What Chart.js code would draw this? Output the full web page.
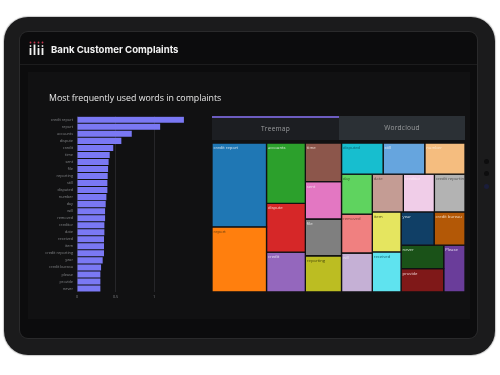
<!DOCTYPE html>
<html>
<head>
<meta charset="utf-8">
<title>Bank Customer Complaints</title>
<script src="https://cdn.jsdelivr.net/npm/chart.js@4"></script>
<style>
  html, body { margin: 0; width: 500px; height: 375px; background: #fff; overflow: hidden; }
  body { position: relative; font-family: "Open Sans", sans-serif; }
  #device { position: absolute; left: 0; top: 0; width: 500px; height: 375px; filter: blur(0.35px); }
  .abs { position: absolute; }
  #tablet { left: 4px; top: 17px; width: 491px; height: 338px; background: #1b1b1c; border-radius: 24px; box-shadow: 0 0 1px 1px #c9c9c9; }
  #screen { left: 20px; top: 32px; width: 457px; height: 306px; background: #0c0c0d; border-radius: 8px; box-shadow: 0 0 0 1px #2a2a2b; }
  #headline { left: 20px; top: 64px; width: 457px; height: 1px; background: #1c1c1d; }
  #panel { left: 28px; top: 72px; width: 442px; height: 247px; background: #111112; }
  #title { left: 51px; top: 44px; font: 700 9.6px Inter, sans-serif; color: #f2f2f2; white-space: nowrap; }
  #subtitle { left: 49px; top: 92px; font: 500 8.8px "Open Sans", sans-serif; color: #e8e8e8; white-space: nowrap; }
  .tab { top: 116px; height: 24px; line-height: 24px; text-align: center; font-size: 6.6px; letter-spacing: 0.2px; color: #9a9c9e; box-sizing: border-box; }
  #tabA { left: 212px; width: 127px; background: #1c1e22; border-top: 2px solid #6c5cc0; line-height: 22px; }
  #tabB { left: 339px; width: 126px; background: #2b3035; }
  .dot { width: 5px; height: 5px; left: 484px; border-radius: 50%; background: #0d0d0e; }
  #barBox { left: 30px; top: 110px; width: 155px; height: 194px; }
  #mapBox { left: 212px; top: 143px; width: 253px; height: 149px; }
</style>
</head>
<body>
<div id="device">
<div class="abs" id="tablet"></div>
<div class="abs" id="screen"></div>
<div class="abs" id="headline"></div>
<div class="abs" id="panel"></div>
<div class="abs dot" style="top:159px"></div>
<div class="abs dot" style="top:171px"></div>
<div class="abs dot" style="top:184px;background:#1a1d3a"></div>

<svg class="abs" style="left:29px;top:41px" width="15" height="15">
  <g fill="#c2344d"><circle cx="1.5" cy="1.5" r="0.9"/><circle cx="5.5" cy="1.5" r="0.9"/><circle cx="9.5" cy="1.5" r="0.9"/><circle cx="13.5" cy="1.5" r="0.9"/></g>
  <g fill="#ddd"><circle cx="1.5" cy="5" r="0.9"/><circle cx="9.5" cy="5" r="0.9"/><circle cx="13.5" cy="5" r="0.9"/></g>
  <g fill="#f4f4f4"><rect x="0.6" y="7" width="1.8" height="7"/><rect x="4.6" y="3.5" width="1.8" height="10.5"/><rect x="8.6" y="7" width="1.8" height="7"/><rect x="12.6" y="7" width="1.8" height="7"/></g>
</svg>
<div class="abs" id="title">Bank Customer Complaints</div>
<div class="abs" id="subtitle">Most frequently used words in complaints</div>
<div class="abs tab" id="tabA">Treemap</div>
<div class="abs tab" id="tabB">Wordcloud</div>

<div class="abs" id="barBox"><canvas id="bars"></canvas></div>
<div class="abs" id="mapBox"><canvas id="map"></canvas></div>
</div>

<script>
// word frequencies, same numbers feed the bars and the treemap tiles
const words = ['credit report', 'report', 'accounts', 'dispute', 'credit', 'time', 'sent', 'file',
  'reporting', 'still', 'disputed', 'number', 'day', 'will', 'removed', 'creditor', 'date',
  'received', 'item', 'credit reporting', 'year', 'credit bureau', 'please', 'provide', 'never'];
const freq = [1.386, 1.078, 0.71, 0.575, 0.47, 0.424, 0.41, 0.403,
  0.398, 0.394, 0.394, 0.381, 0.372, 0.364, 0.364, 0.355, 0.355,
  0.35, 0.35, 0.35, 0.333, 0.312, 0.303, 0.303, 0.303];
const xTicks = [0, 0.5, 1];

const tileColors = ['#1f77b4', '#ff7f0e', '#2ca02c', '#d62728', '#9467bd', '#8c564b', '#e377c2', '#7f7f7f',
  '#bcbd22', '#66a5de', '#17becf', '#f5bd7f', '#5fd35f', '#c5b0d5', '#f08080', '#f0cde8', '#c49c94',
  '#5fe3ef', '#e5e55f', '#b3b3b3', '#103f66', '#b35806', '#6a3d9a', '#7f1818', '#1a5218'];
const tileInk = ['#dbe6f0', '#5a3a10', '#dcecdc', '#f2d4d4', '#e8dff2', '#ecdcd6', '#f2dcec', '#e8e8e8',
  '#44440c', '#e0ecf8', '#0f5f6e', '#fbe6cc', '#245c24', '#e4dcec', '#7a3c3c', '#fbeaf6', '#66504a',
  '#14606a', '#4e4e14', '#4d4d4d', '#d6e2ec', '#f4dcc4', '#e6dcf2', '#f0d6d6', '#d8ead8'];

// slice-and-dice order, every nesting level flips the split direction
const tree = [
  ['credit report', 'report'],
  ['accounts', 'dispute', 'credit'],
  ['time', 'sent', 'file', 'reporting'],
  [
    ['disputed', 'still', 'number'],
    [
      ['day', 'removed', 'will'],
      [
        ['date', 'creditor', 'credit reporting'],
        [
          ['item', 'received'],
          [
            ['year', 'credit bureau'],
            [['never', 'provide'], 'please']
          ]
        ]
      ]
    ]
  ]
];

const BAR_COLOR = '#7a78f4';
const TICK_COLOR = '#85878a';
const GRID_COLOR = '#262629';

function nodeSize(node) {
  if (typeof node === 'string') return freq[words.indexOf(node)];
  return node.reduce((s, n) => s + nodeSize(n), 0);
}

// turn the tree into unit-square rectangles for the hidden linear scales
function layout(node, x0, y0, x1, y1, horizontal, out) {
  if (typeof node === 'string') {
    out.push({ word: node, x0, y0, x1, y1 });
    return out;
  }
  const total = nodeSize(node);
  let at = horizontal ? x0 : y0;
  node.forEach(child => {
    const span = (horizontal ? x1 - x0 : y1 - y0) * nodeSize(child) / total;
    if (horizontal) layout(child, at, y0, at + span, y1, false, out);
    else layout(child, x0, at, x1, at + span, true, out);
    at += span;
  });
  return out;
}

new Chart(document.getElementById('bars'), {
  type: 'bar',
  data: {
    labels: words,
    datasets: [{ data: freq, backgroundColor: BAR_COLOR, barPercentage: 0.86, categoryPercentage: 1 }]
  },
  options: {
    indexAxis: 'y', responsive: true, maintainAspectRatio: false, animation: false,
    layout: { padding: { top: 2, right: 0, left: 0, bottom: 0 } },
    plugins: { legend: { display: false }, tooltip: { enabled: false } },
    scales: {
      y: {
        afterFit: s => { s.width = 47; },
        grid: { display: false, drawTicks: false }, border: { display: false },
        ticks: { color: TICK_COLOR, font: { size: 3.8, family: 'Open Sans' }, autoSkip: false, padding: 4 }
      },
      x: {
        min: 0, max: 1.4,
        afterBuildTicks: s => { s.ticks = xTicks.map(value => ({ value })); },
        afterFit: s => { s.height = 12; },
        grid: { color: GRID_COLOR, lineWidth: 1, drawTicks: false }, border: { display: false },
        ticks: {
          color: TICK_COLOR, font: { size: 3.8, family: 'Open Sans' }, padding: 3, maxRotation: 0,
          callback: v => String(v)
        }
      }
    }
  }
});

const tiles = layout(tree, 0, 0, 1, 1, true, []);

const tileLabels = {
  id: 'tileLabels',
  afterDatasetsDraw(chart) {
    const { ctx, scales: { x, y } } = chart;
    ctx.save();
    ctx.font = '4.2px "Open Sans"';
    ctx.textBaseline = 'middle';
    tiles.forEach(t => {
      const i = words.indexOf(t.word);
      ctx.fillStyle = tileInk[i];
      const text = t.word === 'please' ? 'Please' : t.word;
      ctx.fillText(text, x.getPixelForValue(t.x0) + 1.5, y.getPixelForValue(t.y0) + 5);
    });
    ctx.restore();
  }
};

new Chart(document.getElementById('map'), {
  type: 'scatter',
  data: {
    datasets: tiles.map(t => {
      const i = words.indexOf(t.word);
      return {
        label: t.word,
        data: [
          { x: t.x0, y: t.y0 }, { x: t.x1, y: t.y0 }, { x: t.x1, y: t.y1 },
          { x: t.x0, y: t.y1 }, { x: t.x0, y: t.y0 }
        ],
        showLine: true, fill: 'shape', pointRadius: 0,
        backgroundColor: tileColors[i], borderColor: '#111112', borderWidth: 1.3, tension: 0
      };
    })
  },
  plugins: [tileLabels],
  options: {
    responsive: true, maintainAspectRatio: false, animation: false,
    layout: { padding: 0 },
    plugins: { legend: { display: false }, tooltip: { enabled: false } },
    scales: {
      x: { type: 'linear', min: 0, max: 1, display: false },
      y: { type: 'linear', min: 0, max: 1, reverse: true, display: false }
    }
  }
});
</script>
</body>
</html>
